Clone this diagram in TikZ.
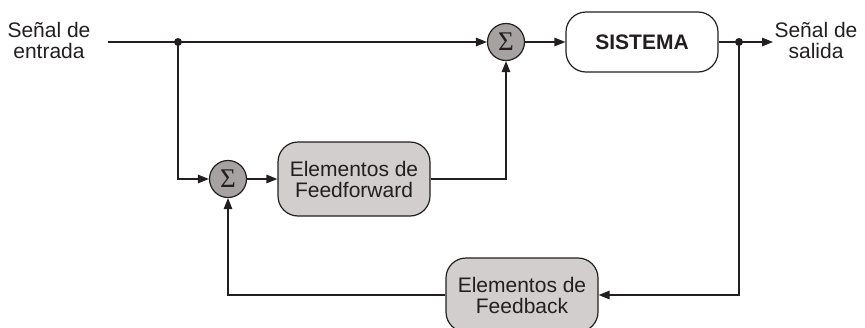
\documentclass[tikz,border=0pt]{standalone}
\usepackage{fontspec}
\setmainfont{Liberation Sans}
\newfontfamily\sigmafont{Liberation Serif}
\usetikzlibrary{arrows.meta}
\definecolor{ink}{HTML}{231F20}
\definecolor{boxgray}{HTML}{D2CECE}
\definecolor{sumgray}{HTML}{A6A2A2}
\begin{document}
\begin{tikzpicture}[x=1pt,y=-1pt,line width=1.2pt,
  lbl/.style={font=\fontsize{21}{21}\selectfont,align=center,text=ink,inner sep=0pt},
  block/.style={draw=ink,rounded corners=20pt,fill=boxgray,minimum width=152pt,
    minimum height=74pt,inner sep=0pt,align=center,text=ink,
    font=\fontsize{21}{21}\selectfont},
  sumnode/.style={circle,draw=ink,fill=sumgray,minimum size=37pt,inner sep=0pt,
    text=ink,font=\sigmafont\fontsize{27}{27}\selectfont},
  jdot/.style={circle,fill=ink,minimum size=8pt,inner sep=0pt},
  flow/.style={draw=ink,-{Triangle[length=11pt,width=8.5pt]}},
  wire/.style={draw=ink}]
\useasboundingbox (0,0) rectangle (865,327);

% signals in and out
\node[lbl] (in) at (49,40) {Señal de\\entrada};
\coordinate (start) at (108,42);
\node[lbl] (out) at (816,40) {Señal de\\salida};
\coordinate (outend) at (773,42);

% main path
\node[sumnode] (s1) at (506,42) {Σ};
\node[block,fill=white,minimum height=60pt,font=\bfseries\fontsize{21}{21}\selectfont] (sys) at (642,42) {SISTEMA};

% feedforward and feedback paths
\node[sumnode] (s2) at (228,179) {Σ};
\node[block] (ff) at (354,179) {Elementos de\\Feedforward};
\node[block] (fb) at (522,295) {Elementos de\\Feedback};

% branch points
\coordinate (j1) at (178,42);
\coordinate (j2) at (739,42);

% connectors
\draw[wire] (start) -- (j1);
\draw[flow] (j1) -- (s1);
\draw[flow] (s1) -- (sys);
\draw[wire] (sys) -- (j2);
\draw[flow] (j2) -- (outend);
\draw[flow] (j1) |- (s2);
\draw[flow] (s2) -- (ff);
\draw[flow] (ff) -| (s1);
\draw[flow] (j2) |- (fb);
\draw[flow] (fb) -| (s2);

\node[jdot] (d1) at (j1) {};
\node[jdot] (d2) at (j2) {};
\end{tikzpicture}
\end{document}
